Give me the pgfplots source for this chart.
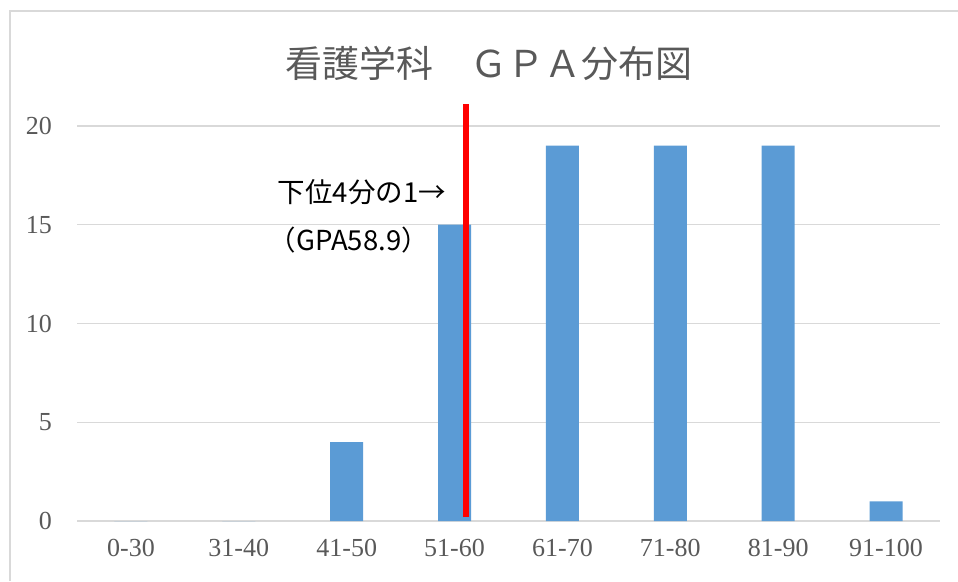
\documentclass[border=0pt]{standalone}
\usepackage{pgfplots}
\pgfplotsset{compat=1.18}
\usepackage{fontspec}
\setmainfont{Liberation Serif}
\newfontfamily\jp{Noto Sans CJK JP}
\definecolor{barblue}{HTML}{5B9BD5}
\definecolor{gridgray}{HTML}{D9D9D9}
\definecolor{txtgray}{HTML}{595959}
\begin{document}
\begin{tikzpicture}[x=1pt,y=1pt]
\path[use as bounding box] (0,0) rectangle (958,581);
\draw[gridgray, line width=1.5pt] (10,0) -- (10,570) -- (958,570);
\node[txtgray, font=\jp\fontsize{37}{42}\selectfont] at (489,518) {看護学科　ＧＰＡ分布図};
\begin{axis}[
  at={(77pt,60pt)}, anchor=south west,
  scale only axis, width=863pt, height=395pt,
  xmin=-0.5, xmax=7.5, ymin=0, ymax=20,
  clip=false,
  axis line style={draw=none},
  major tick length=0pt,
  ymajorgrids, grid style={gridgray, line width=1.3pt},
  ytick={0,5,10,15,20},
  xtick={0,...,7},
  xticklabels={0-30,31-40,41-50,51-60,61-70,71-80,81-90,91-100},
  /pgf/number format/assume math mode=true,
  tick label style={txtgray, font=\fontsize{26}{29}\selectfont},
  yticklabel style={anchor=east, inner sep=0pt, xshift=-25pt},
  xticklabel style={anchor=north, inner sep=0pt, yshift=-18pt},
]
\addplot[ybar, bar width=33pt, bar shift=0pt, fill=barblue, draw=none]
  coordinates {(0,0) (1,0) (2,4) (3,15) (4,19) (5,19) (6,19) (7,1)};
\addplot[red, line width=6pt, mark=none] coordinates {(3.106,0.2) (3.106,21.1)};
\node[font=\jp\fontsize{27.5}{30}\selectfont, black] at (axis cs:2.14,16.66) {下位4分の1→};
\node[font=\jp\fontsize{27.5}{30}\selectfont, black] at (axis cs:2.02,14.23) {（GPA58.9）};
\end{axis}
\end{tikzpicture}
\end{document}
